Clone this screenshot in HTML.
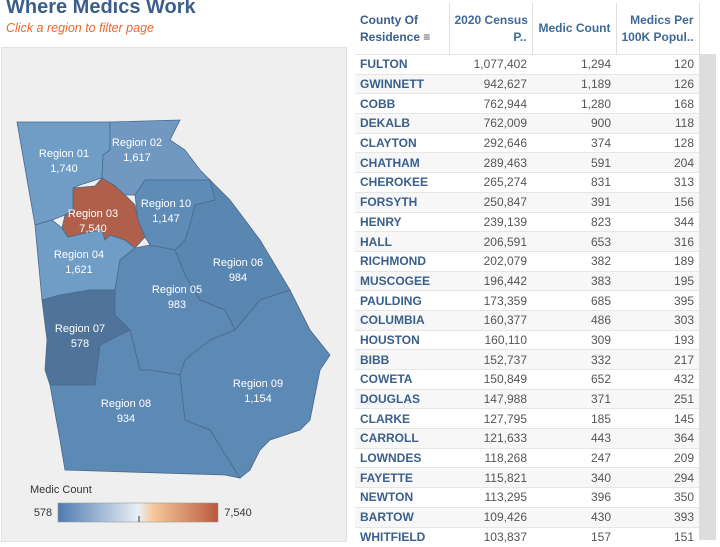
<!DOCTYPE html>
<html><head><style>
body{margin:0;width:720px;height:540px;overflow:hidden;background:#fff;font-family:"Liberation Sans",sans-serif;position:relative}
.t{position:absolute;left:6px;top:-4px;font-size:20px;font-weight:bold;color:#3a5f8a}
.s{position:absolute;left:6px;top:21px;font-size:12.5px;font-style:italic;color:#e8692c}
.map{position:absolute;left:1px;top:47px;width:344px;height:493px;background:#efefef;border:1px solid #e2e2e2}
table{position:absolute;left:355px;top:3px;border-collapse:collapse;font-size:12px;table-layout:fixed;width:344px}
td,th{padding:0 5px;line-height:12px;white-space:nowrap;overflow:hidden}
tr.r{height:19.7px}
td{border-top:1px solid #e6e6e6;color:#555;text-align:right;box-sizing:border-box}
th{height:51px;font-weight:bold;color:#3f6a96;font-size:12px;border-right:1px solid #ddd;vertical-align:middle;line-height:17px}
td:first-child{text-align:left;font-weight:bold;color:#3a5f8a}
tr.r:nth-child(odd) td{background:#f7f7f7}
.sb{position:absolute;left:699px;top:54px;width:17px;height:486px;background:#ddd}
</style></head><body>
<div class="t">Where Medics Work</div>
<div class="s">Click a region to filter page</div>
<div class="map"></div>
<svg style="position:absolute;left:0;top:0" width="350" height="540" font-family="Liberation Sans" font-size="11" fill="#fff" text-anchor="middle">
<g stroke="#4a6a8c" stroke-width="0.8">
<polygon fill="#6f9dc6" points="17,122 110,122 110,150 103,155 102,178 80,185 73,188 73,210 65,215 52,220 35,225"/>
<polygon fill="#7098c0" points="110,122 180,120 170,140 185,150 200,170 210,180 145,180 135,195 125,195 115,186 102,178 103,155 110,150"/>
<polygon fill="#5f8bb7" points="135,195 145,180 210,180 215,200 195,205 190,225 185,240 175,250 150,245 145,237 138,220"/>
<polygon fill="#6f9dc6" points="35,225 52,220 62,228 68,237 90,232 102,230 105,240 110,235 125,240 135,248 120,260 115,290 90,290 60,295 42,300"/>
<polygon fill="#5a86b2" points="210,180 230,200 260,240 290,290 260,300 235,330 225,310 200,300 185,275 175,250 185,240 190,225 195,205 215,200"/>
<polygon fill="#5d89b5" points="120,260 135,248 150,245 175,250 185,275 200,300 225,310 235,330 210,340 185,360 180,375 150,370 140,370 130,330 115,315 115,290"/>
<polygon fill="#4f7399" points="42,300 60,295 90,290 115,290 115,315 130,330 100,345 95,385 50,385 45,370 47,340"/>
<polygon fill="#5d89b5" points="50,385 95,385 100,345 130,330 140,370 150,370 180,375 185,420 210,430 240,478 225,475 65,470 60,440"/>
<polygon fill="#5d89b5" points="180,375 185,360 210,340 235,330 260,300 290,290 310,330 330,355 320,370 315,395 310,420 300,430 270,440 260,450 250,470 240,478 210,430 185,420"/>
<polygon fill="#b0604a" points="73,188 95,186 102,178 115,186 125,195 135,205 138,220 145,237 135,248 125,240 110,235 105,240 102,230 90,232 68,237 62,228 65,215 73,210"/>
</g>
<text x="64" y="157">Region 01</text><text x="64" y="172">1,740</text>
<text x="137" y="146">Region 02</text><text x="137" y="161">1,617</text>
<text x="93" y="217">Region 03</text><text x="93" y="232">7,540</text>
<text x="166" y="207">Region 10</text><text x="166" y="222">1,147</text>
<text x="79" y="258">Region 04</text><text x="79" y="273">1,621</text>
<text x="238" y="266">Region 06</text><text x="238" y="281">984</text>
<text x="177" y="293">Region 05</text><text x="177" y="308">983</text>
<text x="80" y="332">Region 07</text><text x="80" y="347">578</text>
<text x="126" y="407">Region 08</text><text x="126" y="422">934</text>
<text x="258" y="387">Region 09</text><text x="258" y="402">1,154</text>
<defs><linearGradient id="g"><stop offset="0" stop-color="#4f7ab0"/><stop offset="0.5" stop-color="#e8f0f5"/><stop offset="0.6" stop-color="#f6c79b"/><stop offset="1" stop-color="#b95a3e"/></linearGradient></defs>
<rect x="58" y="503" width="160" height="19" fill="url(#g)" stroke="#999" stroke-width="0.6"/>
<line x1="139" y1="516" x2="139" y2="522" stroke="#333"/>
<text x="30" y="493" fill="#333" text-anchor="start">Medic Count</text>
<text x="43" y="516" fill="#333">578</text>
<text x="238" y="516" fill="#333">7,540</text>
</svg>
<table>
<colgroup><col style="width:94px"><col style="width:83px"><col style="width:84px"><col style="width:83px"></colgroup>
<tr><th style="text-align:left;color:#3a5f8a">County Of<br>Residence <span style="color:#555">&#8801;</span></th><th style="text-align:right">2020 Census<br>P..</th><th style="text-align:right">Medic Count</th><th style="text-align:right">Medics Per<br>100K Popul..</th></tr>
<tr class="r"><td>FULTON</td><td>1,077,402</td><td>1,294</td><td>120</td></tr>
<tr class="r"><td>GWINNETT</td><td>942,627</td><td>1,189</td><td>126</td></tr>
<tr class="r"><td>COBB</td><td>762,944</td><td>1,280</td><td>168</td></tr>
<tr class="r"><td>DEKALB</td><td>762,009</td><td>900</td><td>118</td></tr>
<tr class="r"><td>CLAYTON</td><td>292,646</td><td>374</td><td>128</td></tr>
<tr class="r"><td>CHATHAM</td><td>289,463</td><td>591</td><td>204</td></tr>
<tr class="r"><td>CHEROKEE</td><td>265,274</td><td>831</td><td>313</td></tr>
<tr class="r"><td>FORSYTH</td><td>250,847</td><td>391</td><td>156</td></tr>
<tr class="r"><td>HENRY</td><td>239,139</td><td>823</td><td>344</td></tr>
<tr class="r"><td>HALL</td><td>206,591</td><td>653</td><td>316</td></tr>
<tr class="r"><td>RICHMOND</td><td>202,079</td><td>382</td><td>189</td></tr>
<tr class="r"><td>MUSCOGEE</td><td>196,442</td><td>383</td><td>195</td></tr>
<tr class="r"><td>PAULDING</td><td>173,359</td><td>685</td><td>395</td></tr>
<tr class="r"><td>COLUMBIA</td><td>160,377</td><td>486</td><td>303</td></tr>
<tr class="r"><td>HOUSTON</td><td>160,110</td><td>309</td><td>193</td></tr>
<tr class="r"><td>BIBB</td><td>152,737</td><td>332</td><td>217</td></tr>
<tr class="r"><td>COWETA</td><td>150,849</td><td>652</td><td>432</td></tr>
<tr class="r"><td>DOUGLAS</td><td>147,988</td><td>371</td><td>251</td></tr>
<tr class="r"><td>CLARKE</td><td>127,795</td><td>185</td><td>145</td></tr>
<tr class="r"><td>CARROLL</td><td>121,633</td><td>443</td><td>364</td></tr>
<tr class="r"><td>LOWNDES</td><td>118,268</td><td>247</td><td>209</td></tr>
<tr class="r"><td>FAYETTE</td><td>115,821</td><td>340</td><td>294</td></tr>
<tr class="r"><td>NEWTON</td><td>113,295</td><td>396</td><td>350</td></tr>
<tr class="r"><td>BARTOW</td><td>109,426</td><td>430</td><td>393</td></tr>
<tr class="r"><td>WHITFIELD</td><td>103,837</td><td>157</td><td>151</td></tr>
</table>
<div class="sb"></div>
</body></html>
